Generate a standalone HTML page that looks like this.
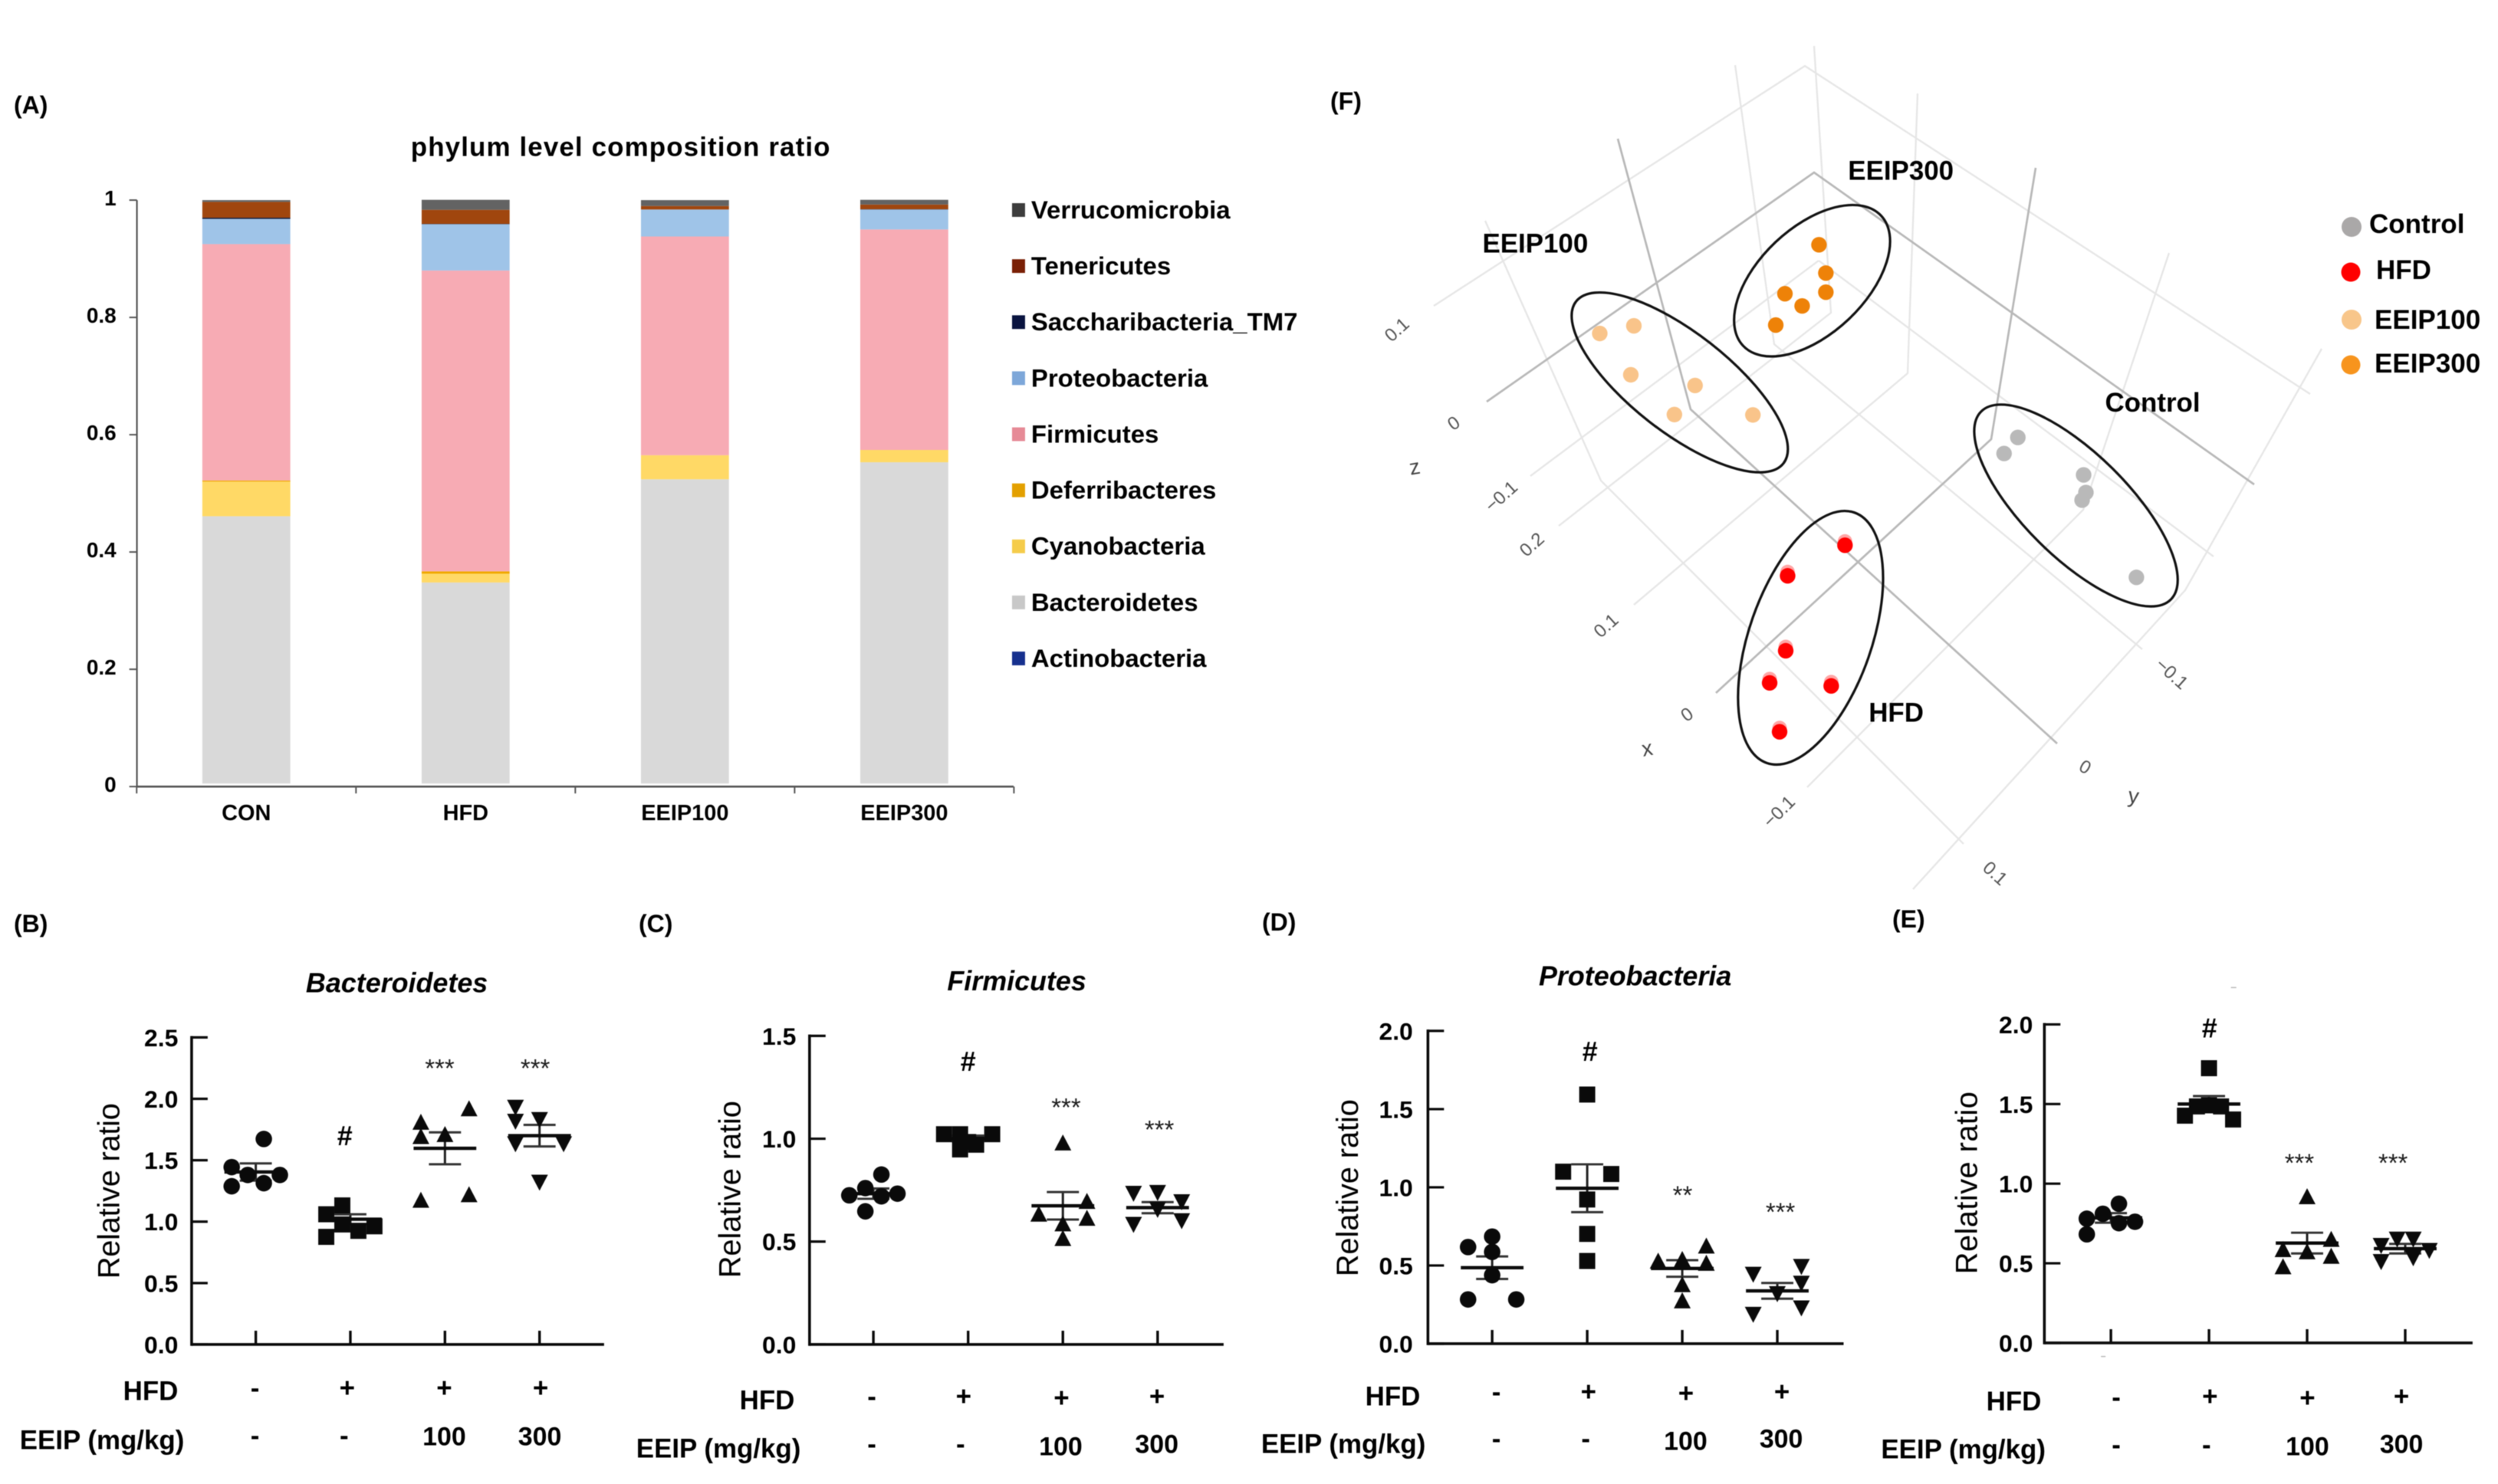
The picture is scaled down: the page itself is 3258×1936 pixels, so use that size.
<!DOCTYPE html>
<html lang="en">
<head>
<meta charset="utf-8">
<title>Gut microbiota composition figure</title>
<style>
html,body{margin:0;padding:0;background:#fff;}
svg{display:block;filter:blur(0.6px);}
text{font-family:"Liberation Sans",Arial,sans-serif;fill:#000;}
.b{font-weight:bold;}
.letter{font-weight:bold;font-size:32px;}
.row{font-weight:bold;font-size:35px;text-anchor:end;}
.sign{font-weight:bold;font-size:35px;text-anchor:middle;}
.dose{font-weight:bold;font-size:34px;text-anchor:middle;}
.hash{font-weight:bold;font-size:36px;text-anchor:middle;}
.star{font-size:33px;text-anchor:middle;fill:#1c1c1c;}
.ratio{font-size:40px;text-anchor:middle;}
.ttl{font-weight:bold;font-style:italic;font-size:36px;text-anchor:middle;}
.flabel{font-weight:bold;font-size:35px;}
.ftick{font-size:24px;fill:#555;text-anchor:middle;}
.faxis{font-size:28px;fill:#444;text-anchor:middle;}
</style>
</head>
<body>
<svg id="figure" xmlns="http://www.w3.org/2000/svg" width="3258" height="1936" viewBox="0 0 3258 1936">
<rect x="0" y="0" width="3258" height="1936" fill="#fff"/>

<text class="letter" x="18" y="148">(A)</text>
<text class="letter" x="18" y="1216">(B)</text>
<text class="letter" x="833" y="1216">(C)</text>
<text class="letter" x="1646" y="1214">(D)</text>
<text class="letter" x="2468" y="1210">(E)</text>
<text class="letter" x="1735" y="143">(F)</text>

<g id="panelA" transform="translate(0 80) scale(.9977 .9949) translate(0 -80)">
<text class="b" font-size="35" x="811" y="204" text-anchor="middle" textLength="548">phylum level composition ratio</text>
</g>

<g id="panelB" transform="translate(0 1170) scale(.9973 .99653) translate(0 -1170)">
<text class="ttl" x="519" y="1295">Bacteroidetes</text>
<text class="ratio" transform="translate(156,1555) rotate(-90)" textLength="230">Relative ratio</text>
<text class="hash" x="451" y="1495">#</text>
<text class="star" x="575" y="1406">***</text>
<text class="star" x="700" y="1406">***</text>
<text class="row" x="233" y="1829">HFD</text>
<text class="sign" x="333.5" y="1825">-</text>
<text class="sign" x="454" y="1825">+</text>
<text class="sign" x="581" y="1825">+</text>
<text class="sign" x="707" y="1825">+</text>
<text class="row" x="241" y="1893">EEIP (mg/kg)</text>
<text class="sign" x="333.5" y="1887">-</text>
<text class="sign" x="450" y="1887">-</text>
<text class="dose" x="581" y="1888">100</text>
<text class="dose" x="706" y="1888">300</text>
</g>

<g id="panelC" transform="translate(810 1170) scale(.9973 .99653) translate(-810 -1170)">
<text class="ttl" x="1327.5" y="1292.5">Firmicutes</text>
<text class="ratio" transform="translate(966,1553) rotate(-90)" textLength="232">Relative ratio</text>
<text class="hash" x="1264" y="1398">#</text>
<text class="star" x="1392" y="1457">***</text>
<text class="star" x="1514" y="1486">***</text>
<text class="row" x="1037" y="1841">HFD</text>
<text class="sign" x="1138" y="1836">-</text>
<text class="sign" x="1258" y="1836">+</text>
<text class="sign" x="1386" y="1838">+</text>
<text class="sign" x="1511" y="1836">+</text>
<text class="row" x="1045" y="1904">EEIP (mg/kg)</text>
<text class="sign" x="1138" y="1898">-</text>
<text class="sign" x="1254" y="1898">-</text>
<text class="dose" x="1385" y="1901">100</text>
<text class="dose" x="1510.6" y="1898">300</text>
</g>

<g id="panelD" transform="translate(1630 1170) scale(.9973 .99653) translate(-1630 -1170)">
<text class="ttl" x="2134" y="1286">Proteobacteria</text>
<text class="ratio" transform="translate(1771.6,1551) rotate(-90)" textLength="232">Relative ratio</text>
<text class="hash" x="2075" y="1385">#</text>
<text class="star" x="2196" y="1572">**</text>
<text class="star" x="2324" y="1594">***</text>
<text class="row" x="1853" y="1836">HFD</text>
<text class="sign" x="1952.5" y="1830">-</text>
<text class="sign" x="2073" y="1830">+</text>
<text class="sign" x="2200.5" y="1832">+</text>
<text class="sign" x="2326" y="1830">+</text>
<text class="row" x="1860" y="1898">EEIP (mg/kg)</text>
<text class="sign" x="1952.5" y="1891">-</text>
<text class="sign" x="2069.4" y="1891">-</text>
<text class="dose" x="2200" y="1894">100</text>
<text class="dose" x="2325" y="1891">300</text>
</g>

<g id="panelE" transform="translate(2430 1170) scale(.9973 .99653) translate(-2430 -1170)">
<text class="ratio" transform="translate(2579,1544.5) rotate(-90)" textLength="239">Relative ratio</text>
<text class="hash" x="2883" y="1354">#</text>
<text class="star" x="3000.5" y="1530">***</text>
<text class="star" x="3123" y="1530">***</text>
<rect x="2911" y="1288" width="7" height="1.5" fill="#bbb"/>
<rect x="2741" y="1771" width="6" height="1.5" fill="#bbb"/>
<text class="row" x="2663" y="1842.5">HFD</text>
<text class="sign" x="2761" y="1837">-</text>
<text class="sign" x="2883.6" y="1836">+</text>
<text class="sign" x="3011" y="1838">+</text>
<text class="sign" x="3134" y="1836">+</text>
<text class="row" x="2668.6" y="1905">EEIP (mg/kg)</text>
<text class="sign" x="2761" y="1899">-</text>
<text class="sign" x="2879" y="1899">-</text>
<text class="dose" x="3011" y="1901">100</text>
<text class="dose" x="3134" y="1898">300</text>
</g>

<g id="panelF">
<path fill="none" stroke="#e6e6e6" stroke-width="2.3" d="M1870 399L2354 86L3013 514M2366 60L2388 408L2033 686M2263 85L2314 449L2794 847M2372 340L1996 621M2372 340L2887 726M2501 122L2488 487L2131 789M1937 288L2088 627L2561 1101M2829 330L2717 665L2357 1027M3028 455L2850 770L2495 1160"/>
<path fill="none" stroke="#b8b8b8" stroke-width="2.7" d="M2110 181L2205 534L2683 970M1939 524L2366 225L2940 632M2655 219L2597 573L2238 904"/>
<g transform="translate(1700 60) scale(.9976 .99744) translate(-1700 -60)">
<text class="faxis" transform="translate(1847,620) rotate(-10)">z</text>
<text class="faxis" transform="translate(2151,988) rotate(-10)">x</text>
<text class="faxis" transform="translate(2784,1050) rotate(8)">y</text>
<text class="ftick" transform="translate(1827.5,437) rotate(-42)">0.1</text>
<text class="ftick" transform="translate(1901,560) rotate(-35)">0</text>
<text class="ftick" transform="translate(1964,655) rotate(-42)">−0.1</text>
<text class="ftick" transform="translate(2004,718) rotate(-42)">0.2</text>
<text class="ftick" transform="translate(2101,824) rotate(-42)">0.1</text>
<text class="ftick" transform="translate(2206,941) rotate(-35)">0</text>
<text class="ftick" transform="translate(2327.5,1067) rotate(-45)">−0.1</text>
<text class="ftick" transform="translate(2830,887) rotate(42)">−0.1</text>
<text class="ftick" transform="translate(2718,1010) rotate(30)">0</text>
<text class="ftick" transform="translate(2599,1148) rotate(42)">0.1</text>
<g id="fPoints"></g>
<ellipse cx="2192" cy="500" rx="172" ry="65" transform="rotate(38 2192 500)" fill="none" stroke="#111" stroke-width="3.2"/>
<ellipse cx="2365" cy="367" rx="124" ry="69.5" transform="rotate(-43.4 2365 367)" fill="none" stroke="#111" stroke-width="3.2"/>
<ellipse cx="2710" cy="661" rx="174.6" ry="68" transform="rotate(44.7 2710 661)" fill="none" stroke="#111" stroke-width="3.2"/>
<ellipse cx="2363" cy="834" rx="80" ry="173.5" transform="rotate(19.3 2363 834)" fill="none" stroke="#111" stroke-width="3.2"/>
<text class="flabel" x="2412" y="235">EEIP300</text>
<text class="flabel" x="1934" y="330">EEIP100</text>
<text class="flabel" x="2748" y="538">Control</text>
<text class="flabel" x="2439" y="944">HFD</text>
</g>
<g>
<circle cx="3067" cy="296" r="13" fill="#aaa8a8"/>
<text class="flabel" x="3090" y="304">Control</text>
<circle cx="3066" cy="355" r="12.5" fill="#ff0000"/>
<text class="flabel" x="3099" y="364">HFD</text>
<circle cx="3067" cy="417" r="13" fill="#f8c68a"/>
<text class="flabel" x="3097" y="429">EEIP100</text>
<circle cx="3066" cy="476" r="12.5" fill="#f7941d"/>
<text class="flabel" x="3097" y="486">EEIP300</text>
</g>
</g>
</svg>

<script>
// ---------- Panel A data ----------
const compositionCategories = ['CON', 'HFD', 'EEIP100', 'EEIP300'];
const compositionTicks = [0, 0.2, 0.4, 0.6, 0.8, 1];
const actinobacteria = [0, 0, 0, 0];
const bacteroidetes = [0.461, 0.348, 0.524, 0.553];
const cyanobacteria = [0.059, 0.015, 0.041, 0.021];
const deferribacteres = [0.002, 0.004, 0, 0];
const firmicutes = [0.403, 0.513, 0.373, 0.376];
const proteobacteria = [0.043, 0.079, 0.046, 0.034];
const saccharibacteria = [0.002, 0.0005, 0, 0.0005];
const tenericutes = [0.027, 0.024, 0.006, 0.008];
const verrucomicrobia = [0.003, 0.017, 0.010, 0.008];
const phylumNames = ['Actinobacteria', 'Bacteroidetes', 'Cyanobacteria', 'Deferribacteres', 'Firmicutes', 'Proteobacteria', 'Saccharibacteria_TM7', 'Tenericutes', 'Verrucomicrobia'];

// ---------- Panel B data ----------
const bacteroidetesTicks = ['0.0', '0.5', '1.0', '1.5', '2.0', '2.5'];
const bacteroidetesCon = [1.673, 1.444, 1.38, 1.38, 1.313, 1.288];
const bacteroidetesHfd = [1.132, 1.06, 0.977, 0.925, 0.962, 0.876];
const bacteroidetesE100 = [1.92, 1.81, 1.694, 1.71, 1.22, 1.175];
const bacteroidetesE300 = [1.93, 1.816, 1.83, 1.633, 1.633, 1.32];
const bacteroidetesMeans = [1.404, 1.02, 1.597, 1.70];
const bacteroidetesSems = [0.07, 0.04, 0.13, 0.088];

// ---------- Panel C data ----------
const firmicutesTicks = ['0.0', '0.5', '1.0', '1.5'];
const firmicutesCon = [0.826, 0.76, 0.725, 0.72, 0.733, 0.647];
const firmicutesHfd = [1.022, 1.022, 0.948, 0.971, 1.022, 0.984];
const firmicutesE100 = [0.98, 0.696, 0.634, 0.614, 0.587, 0.516];
const firmicutesE300 = [0.734, 0.738, 0.693, 0.656, 0.583, 0.601];
const firmicutesMeans = [0.733, 1.0, 0.674, 0.665];
const firmicutesSems = [0.025, 0.015, 0.067, 0.027];

// ---------- Panel D data ----------
const proteobacteriaTicks = ['0.0', '0.5', '1.0', '1.5', '2.0'];
const proteobacteriaCon = [0.685, 0.618, 0.587, 0.438, 0.283, 0.283];
const proteobacteriaHfd = [1.593, 1.10, 1.085, 0.922, 0.702, 0.529];
const proteobacteriaE100 = [0.625, 0.529, 0.539, 0.515, 0.378, 0.275];
const proteobacteriaE300 = [0.443, 0.493, 0.386, 0.319, 0.228, 0.187];
const proteobacteriaMeans = [0.486, 0.994, 0.481, 0.338];
const proteobacteriaSems = [0.072, 0.153, 0.053, 0.05];

// ---------- Panel E data ----------
const panelETicks = ['0.0', '0.5', '1.0', '1.5', '2.0'];
const panelECon = [0.874, 0.811, 0.78, 0.752, 0.761, 0.682];
const panelEHfd = [1.725, 1.427, 1.403, 1.485, 1.492, 1.485];
const panelEE100 = [0.919, 0.651, 0.587, 0.573, 0.545, 0.479];
const panelEE300 = [0.651, 0.651, 0.611, 0.58, 0.534, 0.51];
const panelEMeans = [0.785, 1.50, 0.627, 0.592];
const panelESems = [0.03, 0.05, 0.065, 0.03];

// Swarm column index of each replicate inside its group (categorical, -3 … 3)
const swarmCon = [[1, -3, -1, 3, 1, -3], [1, -1, -3, 1, 3, -1], [0, -3, 0, 0, -3, 3], [1, -1, -3, 1, 3, -3]];
const swarmHfd = [[-1, -3, -1, 1, 3, -3], [-3, -1, -1, 1, 3, 0], [0, -3, 3, 0, 0, 0], [0, -3, 3, -1.5, 0, 1.5]];
const swarmE100 = [[3, -3, -3, 0, 3, -3], [0, 3, -3, 3, 0, 0], [3, -3, 0, 3, 0, 0], [0, 3, -3, 0, 3, -3]];
const swarmE300 = [[-3, -3, 0, -3, 3, 0], [-3, 0, 3, 0, -3, 3], [-3, 3, 3, 0, 3, -3], [-1, 1, -3, 3, 1, -3]];

// ---------- Panel F data (scores in the projected view plane) ----------
const controlScoreU = [0.334, 0.316, 0.420, 0.423, 0.418, 0.489];
const controlScoreV = [0.028, 0.007, -0.021, -0.044, -0.054, -0.155];
const hfdScoreU = [0.108, 0.033, 0.0305, 0.0095, 0.090, 0.0225];
const hfdScoreV = [-0.113, -0.153, -0.251, -0.293, -0.297, -0.357];
const eeip100ScoreU = [-0.2126, -0.168, -0.172, -0.088, -0.115, -0.0124];
const eeip100ScoreV = [0.164, 0.174, 0.110, 0.096, 0.058, 0.0575];
const eeip300ScoreU = [0.074, 0.083, 0.083, 0.0295, 0.052, 0.0175];
const eeip300ScoreV = [0.280, 0.243, 0.218, 0.216, 0.200, 0.175];

const SVG_NS = 'http://www.w3.org/2000/svg';
function mk(tag, attrs, parent, txt) {
  const n = document.createElementNS(SVG_NS, tag);
  for (const k in attrs) n.setAttribute(k, attrs[k]);
  if (txt !== undefined) n.textContent = txt;
  parent.appendChild(n);
  return n;
}

// ---------- Panel A ----------
(function () {
  const root = document.getElementById('panelA');
  const series = [actinobacteria, bacteroidetes, cyanobacteria, deferribacteres, firmicutes, proteobacteria, saccharibacteria, tenericutes, verrucomicrobia];
  const fills = ['#1f3c88', '#d9d9d9', '#ffd966', '#f0a800', '#f7abb4', '#9fc4e8', '#0f1c3f', '#a0460e', '#636363'];
  const keyFills = ['#16308e', '#c8c8c8', '#f5cc4a', '#e3a000', '#e68a96', '#7da7d9', '#0a1440', '#7a2006', '#3d3d3d'];
  const y = v => 1031 - v * 769;
  const band = i => 322 + i * 286.7;
  const barW = 115;
  const baseGap = 4;
  compositionCategories.forEach((cat, i) => {
    let acc = 0;
    series.forEach((s, j) => {
      const v = s[i];
      if (v > 0) {
        const top = y(acc + v);
        const bottom = Math.min(y(acc), y(0) - baseGap);
        const r = mk('rect', { x: band(i) - barW / 2, y: top, width: barW, height: bottom - top, fill: fills[j] }, root);
        
        
      }
      acc += v;
    });
  });
  const yAxis = mk('line', { x1: 179, x2: 179, y1: y(1), y2: y(0), stroke: '#555', 'stroke-width': 2.2 }, root);
  
  
  const xAxis = mk('line', { x1: 179, x2: 1325, y1: y(0), y2: y(0), stroke: '#555', 'stroke-width': 2.6 }, root);
  
  
  compositionTicks.forEach(t => {
    const tk = mk('line', { x1: 169, x2: 179, y1: y(t), y2: y(t), stroke: '#555', 'stroke-width': 2 }, root);
    
    
    const lb = mk('text', { x: 152, y: y(t) + 7, 'text-anchor': 'end', 'font-size': 28, 'font-weight': 'bold' }, root, String(t));
    
    
  });
  for (let i = 0; i <= compositionCategories.length; i++) {
    const xt = band(i) - 143.35;
    const tk = mk('line', { x1: xt, x2: xt, y1: y(0), y2: y(0) + 9, stroke: '#555', 'stroke-width': 2 }, root);
    
    
  }
  compositionCategories.forEach((cat, i) => {
    const lb = mk('text', { x: band(i), y: 1075, 'text-anchor': 'middle', 'font-size': 29, 'font-weight': 'bold' }, root, cat);
    
    
  });
  // legend: bottom entry first, spaced evenly upward
  phylumNames.forEach((name, j) => {
    const cy = 863 - j * 73.5;
    const m = mk('rect', { x: 1323, y: cy - 9, width: 17, height: 18, fill: keyFills[j] }, root);
    
    
    const t = mk('text', { x: 1348, y: cy + 11, 'font-size': 33, 'font-weight': 'bold' }, root, name);
    
    
  });
})();

// ---------- Panels B–E ----------
function drawDotPanel(cfg, groups, means, sems, ticks) {
  const root = document.getElementById(cfg.id);
  const y = v => cfg.bottom - v * (cfg.bottom - cfg.top) / cfg.max;
  const cx = i => cfg.first + i * cfg.step;
  const slotW = 10.5;
  const ink = '#0a0a0a';

  const yAxis = mk('line', { x1: cfg.axisX, x2: cfg.axisX, y1: cfg.top - 1.8, y2: cfg.bottom + 1.8, stroke: ink, 'stroke-width': 3.6 }, root);
  
  
  const xAxis = mk('line', { x1: cfg.axisX, x2: cfg.xEnd, y1: cfg.bottom, y2: cfg.bottom, stroke: ink, 'stroke-width': 3.6 }, root);
  
  

  ticks.forEach(t => {
    const v = parseFloat(t);
    const tk = mk('line', { x1: cfg.axisX, x2: cfg.axisX + 21, y1: y(v), y2: y(v), stroke: ink, 'stroke-width': 3.2 }, root);
    
    
    const lb = mk('text', { x: cfg.labelRight, y: y(v) + 11.5, 'text-anchor': 'end', 'font-size': 32, 'font-weight': 'bold' }, root, t);
    
    
  });

  groups.forEach((values, g) => {
    const c = cx(g);
    const tk = mk('line', { x1: c, x2: c, y1: cfg.bottom - 18, y2: cfg.bottom, stroke: ink, 'stroke-width': 3.4 }, root);
    
    

    const m = means[g], s = sems[g];
    const stem = mk('line', { x1: c, x2: c, y1: y(m + s), y2: y(m - s), stroke: '#222', 'stroke-width': 3 }, root);
    
    
    [m + s, m - s].forEach(e => {
      const cap = mk('line', { x1: c - 21, x2: c + 21, y1: y(e), y2: y(e), stroke: '#333', 'stroke-width': 3 }, root);
      
      
    });
    const ml = mk('line', { x1: c - 41, x2: c + 41, y1: y(m), y2: y(m), stroke: ink, 'stroke-width': 4.4 }, root);
    
    

    const slots = [swarmCon, swarmHfd, swarmE100, swarmE300][g][cfg.index];
    values.forEach((v, i) => {
      const px = c + slots[i] * slotW, py = y(v);
      let mark;
      if (g === 0) {
        mark = mk('circle', { cx: px, cy: py, r: 10.8, fill: ink }, root);
      } else if (g === 1) {
        mark = mk('rect', { x: px - 10.5, y: py - 10.5, width: 21, height: 21, fill: ink }, root);
      } else if (g === 2) {
        mark = mk('polygon', { points: (px - 11) + ',' + (py + 10) + ' ' + (px + 11) + ',' + (py + 10) + ' ' + px + ',' + (py - 11), fill: ink }, root);
      } else {
        mark = mk('polygon', { points: (px - 11) + ',' + (py - 10) + ' ' + (px + 11) + ',' + (py - 10) + ' ' + px + ',' + (py + 11), fill: ink }, root);
      }
      
      
    });
  });
}

drawDotPanel({ id: 'panelB', index: 0, axisX: 250.6, xEnd: 790, top: 1354, bottom: 1756, max: 2.5, first: 334.5, step: 123.7, labelRight: 233 },
  [bacteroidetesCon, bacteroidetesHfd, bacteroidetesE100, bacteroidetesE300], bacteroidetesMeans, bacteroidetesSems, bacteroidetesTicks);
drawDotPanel({ id: 'panelC', index: 1, axisX: 1056.5, xEnd: 1598, top: 1352, bottom: 1756, max: 1.5, first: 1140, step: 123.9, labelRight: 1039 },
  [firmicutesCon, firmicutesHfd, firmicutesE100, firmicutesE300], firmicutesMeans, firmicutesSems, firmicutesTicks);
drawDotPanel({ id: 'panelD', index: 2, axisX: 1863, xEnd: 2406.6, top: 1345.5, bottom: 1755, max: 2, first: 1947, step: 124.3, labelRight: 1843.4 },
  [proteobacteriaCon, proteobacteriaHfd, proteobacteriaE100, proteobacteriaE300], proteobacteriaMeans, proteobacteriaSems, proteobacteriaTicks);
drawDotPanel({ id: 'panelE', index: 3, axisX: 2667, xEnd: 3227, top: 1337, bottom: 1754, max: 2, first: 2754, step: 128.3, labelRight: 2652 },
  [panelECon, panelEHfd, panelEE100, panelEE300], panelEMeans, panelESems, panelETicks);

// ---------- Panel F ----------
(function () {
  const root = document.getElementById('fPoints');
  const fx = u => 2300 + u * 1000;
  const fy = v => 600 - v * 1000;
  const sets = [
    [controlScoreU, controlScoreV, '#b9b9b9', false],
    [hfdScoreU, hfdScoreV, '#ff0000', true],
    [eeip100ScoreU, eeip100ScoreV, '#f9c48a', false],
    [eeip300ScoreU, eeip300ScoreV, '#ee8208', false]
  ];
  sets.forEach(set => {
    set[0].forEach((u, i) => {
      if (set[3]) {
        const ghost = mk('circle', { cx: fx(u), cy: fy(set[1][i]) - 5, r: 9.5, fill: set[2], opacity: 0.35 }, root);
        
        
      }
      const dot = mk('circle', { cx: fx(u), cy: fy(set[1][i]), r: 10.2, fill: set[2] }, root);
      
      
    });
  });
})();
</script>
</body>
</html>
